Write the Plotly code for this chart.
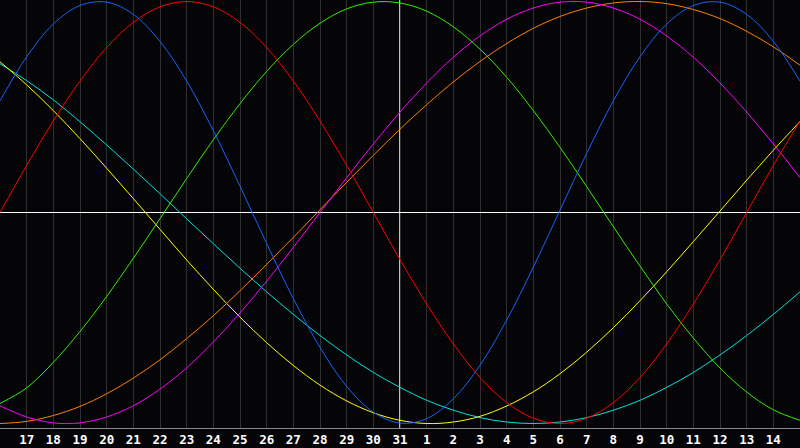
import plotly.graph_objects as go

# day labels across the window (16th .. 15th of next month), today = 31
day_labels = ["16", "17", "18", "19", "20", "21", "22", "23", "24", "25", "26",
              "27", "28", "29", "30", "31", "1", "2", "3", "4", "5", "6", "7",
              "8", "9", "10", "11", "12", "13", "14", "15"]
days = list(range(len(day_labels)))
today_index = 15

physical = [0.529, 0.738, 0.893, 0.981, 0.997, 0.939, 0.811, 0.623, 0.388, 0.125,
            -0.147, -0.408, -0.639, -0.824, -0.946, -0.998, -0.977, -0.883, -0.724,
            -0.510, -0.259, 0.011, 0.280, 0.529, 0.738, 0.893, 0.981, 0.997, 0.939,
            0.811, 0.623]
emotional = [0.0, 0.223, 0.434, 0.623, 0.782, 0.901, 0.975, 1.0, 0.975, 0.901,
             0.782, 0.623, 0.434, 0.223, 0.0, -0.223, -0.434, -0.623, -0.782,
             -0.901, -0.975, -1.0, -0.975, -0.901, -0.782, -0.623, -0.434, -0.223,
             0.0, 0.223, 0.434]
intellectual = [-0.905, -0.831, -0.710, -0.564, -0.398, -0.217, -0.029, 0.161,
                0.345, 0.516, 0.669, 0.797, 0.897, 0.965, 0.997, 0.993, 0.954,
                0.880, 0.774, 0.641, 0.483, 0.309, 0.123, -0.067, -0.254, -0.433,
                -0.595, -0.737, -0.851, -0.935, -0.985]
spiritual = [0.705, 0.625, 0.534, 0.430, 0.320, 0.206, 0.089, -0.030, -0.148,
             -0.264, -0.376, -0.483, -0.583, -0.675, -0.758, -0.829, -0.890,
             -0.937, -0.972, -0.993, -1.0, -0.993, -0.972, -0.937, -0.890, -0.829,
             -0.758, -0.675, -0.583, -0.483, -0.376]
aesthetic = [0.714, 0.605, 0.483, 0.350, 0.210, 0.066, -0.080, -0.225, -0.364,
             -0.496, -0.617, -0.725, -0.818, -0.893, -0.949, -0.985, -1.0, -0.993,
             -0.966, -0.917, -0.850, -0.764, -0.662, -0.546, -0.418, -0.281,
             -0.138, 0.007, 0.153, 0.295, 0.431]
intuition = [-0.916, -0.969, -0.997, -0.997, -0.969, -0.916, -0.837, -0.736,
             -0.614, -0.476, -0.325, -0.165, 0.0, 0.165, 0.325, 0.476, 0.614,
             0.736, 0.837, 0.916, 0.969, 0.997, 0.997, 0.969, 0.916, 0.837, 0.736,
             0.614, 0.476, 0.325, 0.165]
awareness = [-1.0, -0.990, -0.962, -0.919, -0.859, -0.785, -0.698, -0.598, -0.489,
             -0.371, -0.246, -0.118, 0.013, 0.143, 0.271, 0.395, 0.511, 0.619,
             0.716, 0.801, 0.873, 0.929, 0.969, 0.993, 1.0, 0.990, 0.962, 0.919,
             0.859, 0.785, 0.698]

series = [
    ("Spiritual", spiritual, "#00e0e0"),
    ("Aesthetic", aesthetic, "#ffff00"),
    ("Awareness", awareness, "#ff8000"),
    ("Intuition", intuition, "#ff00ff"),
    ("Intellectual", intellectual, "#33f000"),
    ("Emotional", emotional, "#ff0000"),
    ("Physical", physical, "#1464ff"),
]

fig = go.Figure()
for name, vals, color in series:
    fig.add_trace(go.Scatter(x=days, y=vals, name=name, mode="lines",
                             line=dict(color=color, width=1, shape="spline"),
                             hoverinfo="skip"))

# today marker
fig.add_shape(type="line", x0=today_index, x1=today_index, y0=0, y1=1,
              xref="x", yref="paper", line=dict(color="#ffffff", width=1.5),
              layer="between")

fig.update_layout(
    width=800, height=448,
    margin=dict(l=0, r=0, t=0, b=20),
    paper_bgcolor="#050507",
    plot_bgcolor="#050507",
    showlegend=False,
    xaxis=dict(range=[0, len(days) - 1],
               tickvals=days[1:-1], ticktext=day_labels[1:-1],
               showgrid=True, gridcolor="#303030", gridwidth=1,
               zeroline=False, showline=True, linecolor="#8a8a8a", linewidth=1,
               mirror=True, ticks="",
               tickfont=dict(family="DejaVu Sans Mono", size=12.5, color="#ffffff",
                             weight="bold")),
    yaxis=dict(range=[-1.0213, 1.0071], showgrid=False, showticklabels=False,
               zeroline=True, zerolinecolor="#ffffff", zerolinewidth=1,
               showline=True, linecolor="#8a8a8a", linewidth=1, mirror=True,
               ticks=""),
)

fig.write_html("out.html", config={"displayModeBar": False},
               post_script="document.body.style.margin='0';"
                           "document.body.style.overflow='hidden';"
                           "document.body.style.background='#050507';")
